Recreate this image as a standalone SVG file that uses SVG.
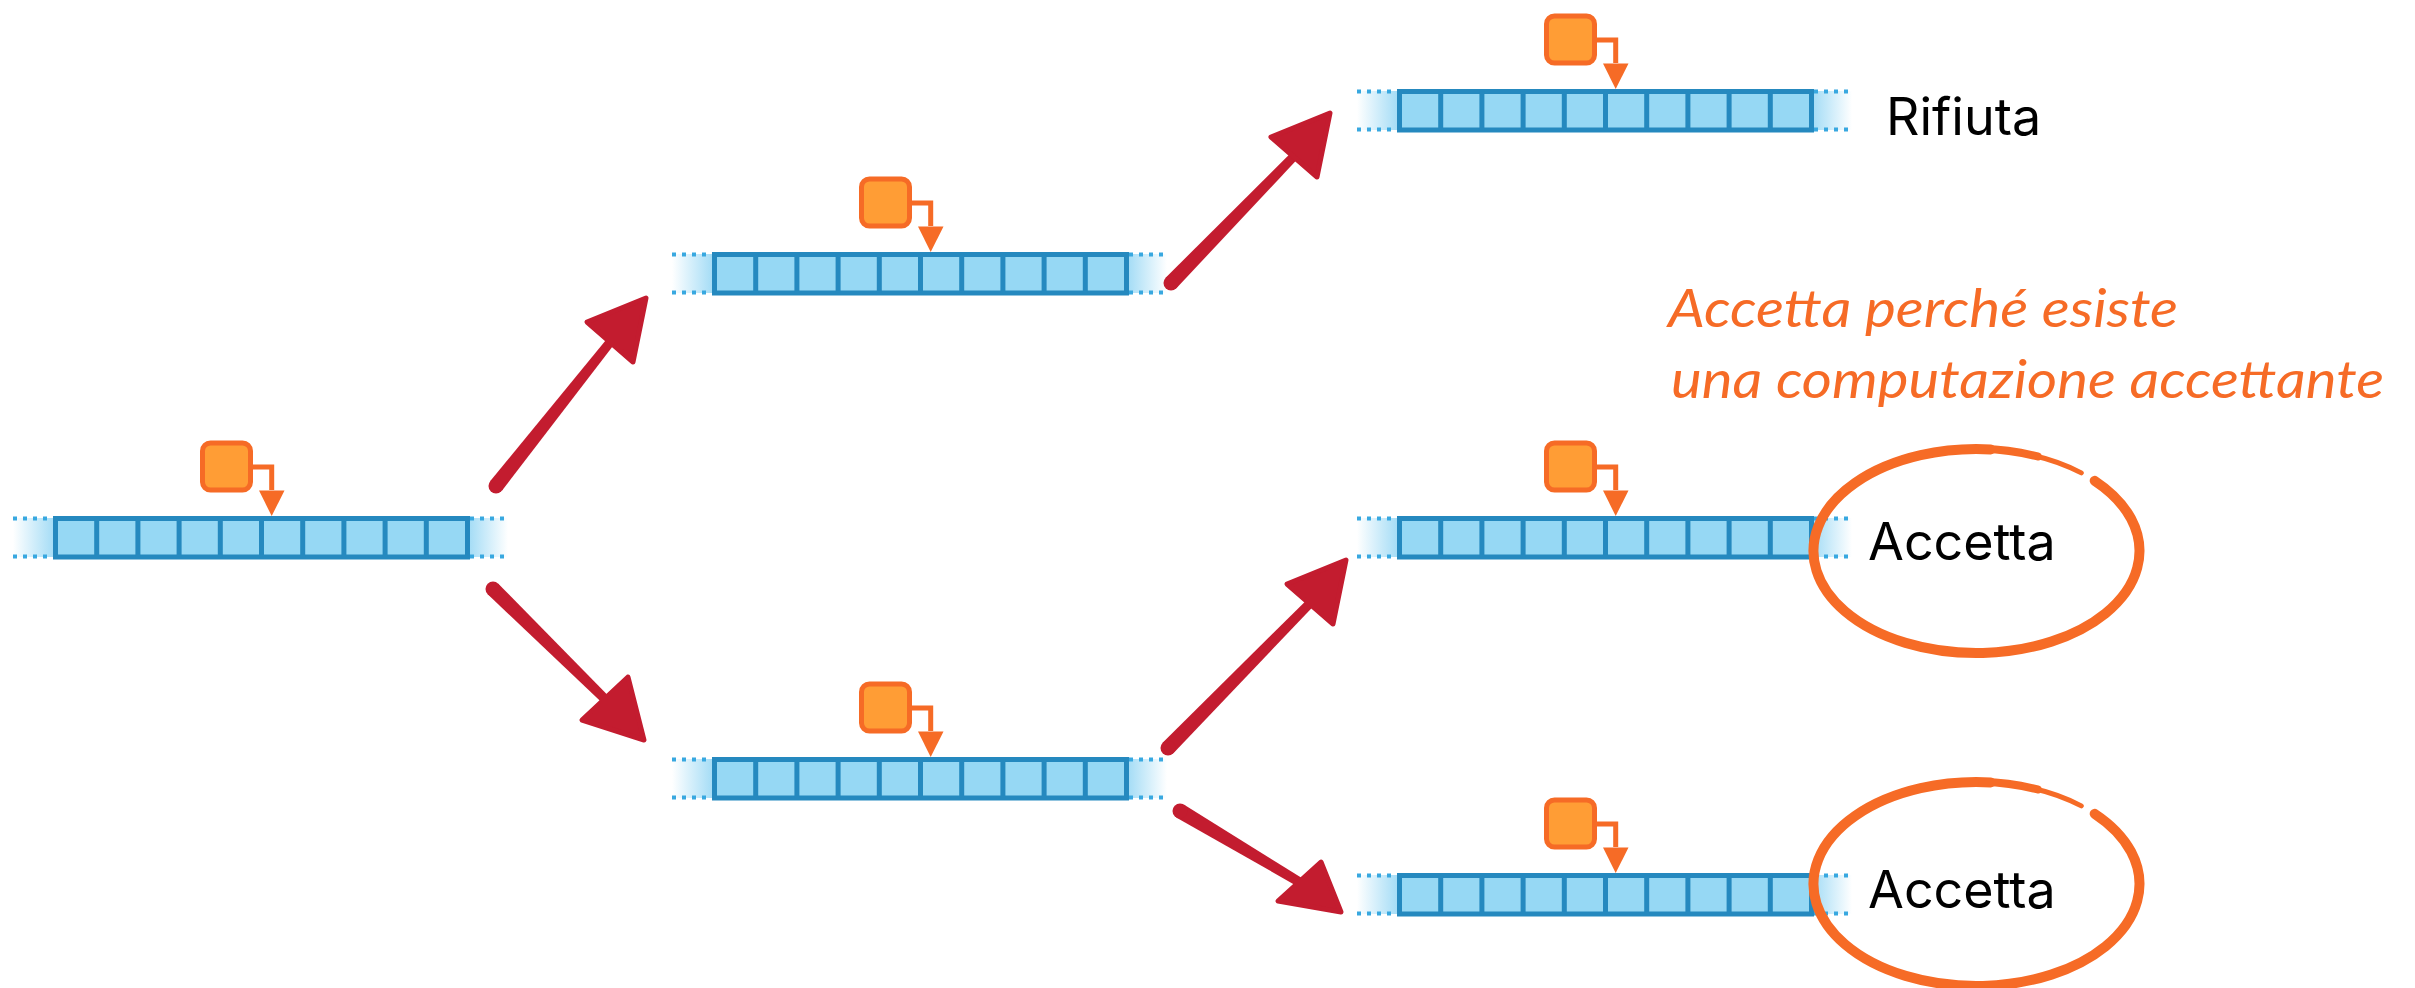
<svg xmlns="http://www.w3.org/2000/svg" xmlns:xlink="http://www.w3.org/1999/xlink" width="2415" height="988" viewBox="0 0 2415 988">
  <style>
    .cell { fill: #96D8F4; stroke: #2589BF; stroke-width: 5; }
    .div { stroke: #2589BF; stroke-width: 5; }
    .dots { stroke: #38A8E0; stroke-width: 4; stroke-dasharray: 4 6; fill: none; }
    .headbox { fill: #FF9D35; stroke: #F66B26; stroke-width: 5; }
    .headline { fill: none; stroke: #F66B26; stroke-width: 5; }
    .headtip { fill: #F66B26; }
    .brush { fill: #C31C2F; }
    .tip { fill: #C31C2F; stroke: #C31C2F; stroke-width: 5; stroke-linejoin: round; }
    .ring { fill: none; stroke: #F66B26; stroke-linecap: round; }
    .label { font-family: Inter, "Liberation Sans", sans-serif; font-size: 52px; fill: #000; }
    .note { font-family: Lato, "Open Sans", sans-serif; font-style: italic; font-size: 52px; fill: #F66B26; }
  </style>
  <defs>
    <linearGradient id="fadeL" x1="0" y1="0" x2="1" y2="0">
      <stop offset="0" stop-color="#FFFFFF"/>
      <stop offset="1" stop-color="#A6DDF6"/>
    </linearGradient>
    <linearGradient id="fadeR" x1="0" y1="0" x2="1" y2="0">
      <stop offset="0" stop-color="#A6DDF6"/>
      <stop offset="1" stop-color="#FFFFFF"/>
    </linearGradient>
    <!-- tape of ten cells with read/write head; origin = top-left outer corner of the cells -->
    <g id="tape">
      <rect x="-40" y="2" width="40" height="39" fill="url(#fadeL)"/>
      <rect x="417" y="2" width="38" height="39" fill="url(#fadeR)"/>
      <path class="dots" d="M-40 2.5H0M-40 40.5H0M417 2.5H457M417 40.5H457"/>
      <rect class="cell" x="2.5" y="2.5" width="412" height="38.5"/>
      <path class="div" d="M43.7 2.5V41M84.9 2.5V41M126.1 2.5V41M167.3 2.5V41M208.5 2.5V41M249.7 2.5V41M290.9 2.5V41M332.1 2.5V41M373.3 2.5V41"/>
      <rect class="headbox" x="149.5" y="-73" width="48" height="47" rx="8"/>
      <path class="headline" d="M197 -49H218.7V-26"/>
      <path class="headtip" d="M206 -25.5H231.5L218.7 0Z"/>
    </g>
    <!-- hand-drawn ring, thinning towards the end of the stroke; centred on (0,0) -->
    <g id="ring">
      <path class="ring" stroke-width="10" d="M118.2 -70.2A163 102 0 1 1 14.2 -101.6"/>
      <path class="ring" stroke-width="8" d="M5.7 -101.9A163 102 0 0 1 61.1 -94.6"/>
      <path class="ring" stroke-width="5" d="M53.1 -96.4A163 102 0 0 1 104.8 -78.1"/>
    </g>
  </defs>

  <!-- configurations -->
  <g id="config-root"><use xlink:href="#tape" href="#tape" transform="translate(53 516)"/></g>
  <g id="config-upper"><use xlink:href="#tape" href="#tape" transform="translate(712 252)"/></g>
  <g id="config-lower"><use xlink:href="#tape" href="#tape" transform="translate(712 757)"/></g>
  <g id="config-reject"><use xlink:href="#tape" href="#tape" transform="translate(1397 89)"/></g>
  <g id="config-accept-1"><use xlink:href="#tape" href="#tape" transform="translate(1397 516)"/></g>
  <g id="config-accept-2"><use xlink:href="#tape" href="#tape" transform="translate(1397 873)"/></g>

  <!-- transitions: tapered brush shaft, rounded tail, triangular head -->
  <g id="connectors">
    <g id="edge-root-upper">
      <path class="brush" d="M501.9 490.7L618.5 338.8L611.5 333.2L490.1 481.3Z"/>
      <circle class="brush" cx="496" cy="486" r="7.5"/>
      <path class="tip" d="M587 322L646 298L633 362Z"/>
    </g>
    <g id="edge-upper-reject">
      <path class="brush" d="M1176.4 288.2L1302.2 154.1L1295.8 147.9L1165.6 277.8Z"/>
      <circle class="brush" cx="1171" cy="283" r="7.5"/>
      <path class="tip" d="M1271 137L1330 113L1317 177Z"/>
    </g>
    <g id="edge-root-lower">
      <path class="brush" d="M487.7 594.3L606.8 707.2L613.2 700.8L498.3 583.7Z"/>
      <circle class="brush" cx="493" cy="589" r="7.5"/>
      <path class="tip" d="M628 677L582 720L644 740Z"/>
    </g>
    <g id="edge-lower-accept-1">
      <path class="brush" d="M1173.4 753.3L1318.2 601.2L1311.8 594.9L1162.6 742.8Z"/>
      <circle class="brush" cx="1168" cy="748" r="7.5"/>
      <path class="tip" d="M1287 584L1346 560L1333 624Z"/>
    </g>
    <g id="edge-lower-accept-2">
      <path class="brush" d="M1176.2 817.4L1303.7 889.9L1308.3 882.1L1183.8 804.6Z"/>
      <circle class="brush" cx="1180" cy="811" r="7.5"/>
      <path class="tip" d="M1321 862L1278 901L1341 912Z"/>
    </g>
  </g>

  <!-- outcomes -->
  <g id="label-reject"><text class="label" x="1886" y="135">Rifiuta</text></g>
  <g id="label-accept-1">
    <use xlink:href="#ring" href="#ring" transform="translate(1976.5 551)"/>
    <text class="label" x="1868" y="560">Accetta</text>
  </g>
  <g id="label-accept-2">
    <use xlink:href="#ring" href="#ring" transform="translate(1976.5 884)"/>
    <text class="label" x="1868" y="908">Accetta</text>
  </g>
  <g id="note">
    <text class="note" x="1668" y="327" textLength="510" lengthAdjust="spacingAndGlyphs">Accetta perché esiste</text>
    <text class="note" x="1671" y="398" textLength="713" lengthAdjust="spacingAndGlyphs">una computazione accettante</text>
  </g>
</svg>
